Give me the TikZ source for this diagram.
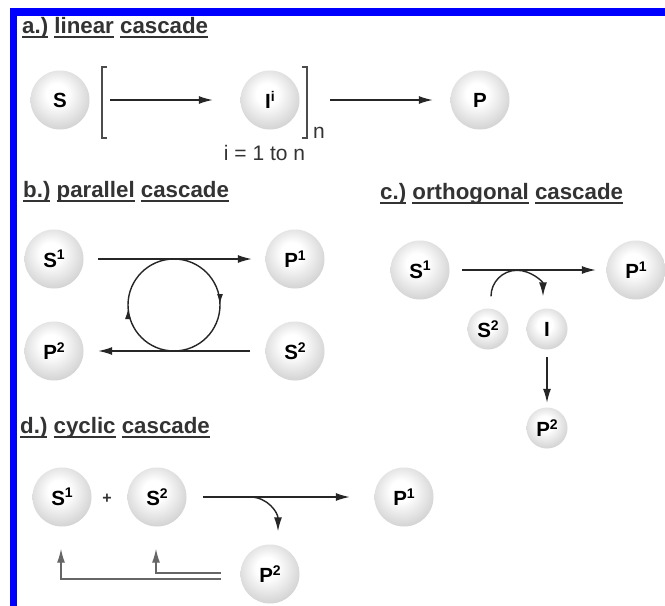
\documentclass[tikz,border=0pt]{standalone}
\usepackage{fontspec}
\setmainfont{Liberation Sans}
\usetikzlibrary{arrows.meta,calc}
\pgfdeclareradialshading{sphere}{\pgfpoint{-3bp}{6bp}}{color(0bp)=(white); color(9bp)=(white); color(27bp)=(black!16); color(41bp)=(black!30); color(50bp)=(black!40); color(62bp)=(black!45)}
\newcommand{\ulw}[1]{\setbox0=\hbox{#1}\rlap{\rule[-4.8pt]{\wd0}{1.5pt}}\box0\relax}
\newcommand{\bsup}[1]{\raisebox{7.5pt}{\fontsize{14}{14}\selectfont #1}}
\begin{document}
\begin{tikzpicture}[x=1pt, y=-1pt,
  title/.style={anchor=base west, inner sep=0pt, font=\fontsize{22.3}{26}\selectfont\bfseries, text=black!80},
  plain/.style={inner sep=0pt, font=\fontsize{21}{24}\selectfont, text=black!80},
  ball/.style={circle, shade, shading=sphere, minimum size=59pt, inner sep=0pt, font=\fontsize{20.5}{24}\selectfont\bfseries},
  sball/.style={ball, minimum size=41pt},
  arr/.style={-{Latex[length=14pt,width=8pt]}, line width=1.4pt, draw=black!85},
  fb/.style={arr, draw=black!60},
  brk/.style={line width=1.3pt, draw=black!70},
  ring/.style={line width=1.4pt, draw=black!85},
  ringtip/.style={-{Latex[length=10pt,width=6pt]}, line width=1.4pt, draw=black!85}
]
\useasboundingbox (0,0) rectangle (665,606);
\fill[white] (0,0) rectangle (665,606);
% blue frame
\fill[blue] (10,8) rectangle (665,16);
\fill[blue] (10,8) rectangle (17,606);

% a.) linear cascade
\node[title] (ta) at (22,33) {\ulw{a.)} \ulw{linear} \ulw{cascade}};
\node[ball] (aS) at (60,100) {S};
\node[ball] (aI) at (270,100) {I\bsup{i}};
\node[ball] (aP) at (480,100) {P};
\draw[brk] (107,67) -- (102,67) -- (102,138) -- (107,138);
\draw[brk] (302,67) -- (307,67) -- (307,138) -- (302,138);
\node[plain, anchor=base west] (an) at (313,138) {n};
\node[plain, anchor=base] (arange) at (264.5,160) {i = 1 to n};
\draw[arr, shorten <=20.5pt, shorten >=27.5pt] (aS) -- (aI);
\draw[arr, shorten <=30.5pt, shorten >=17.5pt] (aI) -- (aP);

% b.) parallel cascade
\node[title] (tb) at (23,197) {\ulw{b.)} \ulw{parallel} \ulw{cascade}};
\node[ball] (bS1) at (54,259) {S\bsup{1}};
\node[ball] (bP1) at (295,259) {P\bsup{1}};
\node[ball] (bP2) at (54,351) {P\bsup{2}};
\node[ball] (bS2) at (295,351) {S\bsup{2}};
\draw[arr, shorten <=14.5pt, shorten >=13.5pt] (bS1) -- (bP1);
\draw[arr, shorten <=15.5pt, shorten >=14.5pt] (bS2) -- (bP2);
\coordinate (bc) at (174,305);
\draw[ring] (bc) circle (46);
\draw[ringtip] ($(bc)+(46,-10)$) -- ($(bc)+(46,-1)$);
\draw[ringtip] ($(bc)+(-46,13)$) -- ($(bc)+(-46,4)$);

% c.) orthogonal cascade
\node[title] (tc) at (380,199) {\ulw{c.)} \ulw{orthogonal} \ulw{cascade}};
\node[ball] (cS1) at (420,270) {S\bsup{1}};
\node[ball] (cP1) at (636,270) {P\bsup{1}};
\node[sball] (cS2) at (488,329) {S\bsup{2}};
\node[sball] (cI) at (547,329) {I};
\node[sball] (cP2) at (547,428) {P\bsup{2}};
\draw[arr, shorten <=12.5pt, shorten >=10.5pt] (cS1) -- (cP1);
\draw[arr] ([shift={(3pt,12pt)}]cS2.north) arc[start angle=180, end angle=360, radius=26];
\draw[arr, shorten <=7.5pt, shorten >=4.5pt] (cI) -- (cP2);

% d.) cyclic cascade
\node[title] (td) at (20,433) {\ulw{d.)} \ulw{cyclic} \ulw{cascade}};
\node[ball] (dS1) at (62,497) {S\bsup{1}};
\node[inner sep=0pt, font=\fontsize{16}{16}\selectfont\bfseries, text=black!80] (plus) at (107,499) {+};
\node[ball] (dS2) at (157,497) {S\bsup{2}};
\node[ball] (dP1) at (404,497) {P\bsup{1}};
\node[ball] (dP2) at (270,574) {P\bsup{2}};
\draw[arr, shorten <=16.5pt, shorten >=24.5pt] (dS2) -- (dP1);
\coordinate (dc) at (250,497);
\draw[arr] (dc) .. controls (268,497) and (278,513) .. ([xshift=8pt,yshift=13pt]dP2.north);
\draw[fb] ($(dP2.center)+(-49,-1)$) -| ($(dS2.south)+(-1,22)$);
\draw[fb] ($(dP2.center)+(-49,5)$) -| ($(dS1.south)+(-1,22)$);
\end{tikzpicture}
\end{document}
